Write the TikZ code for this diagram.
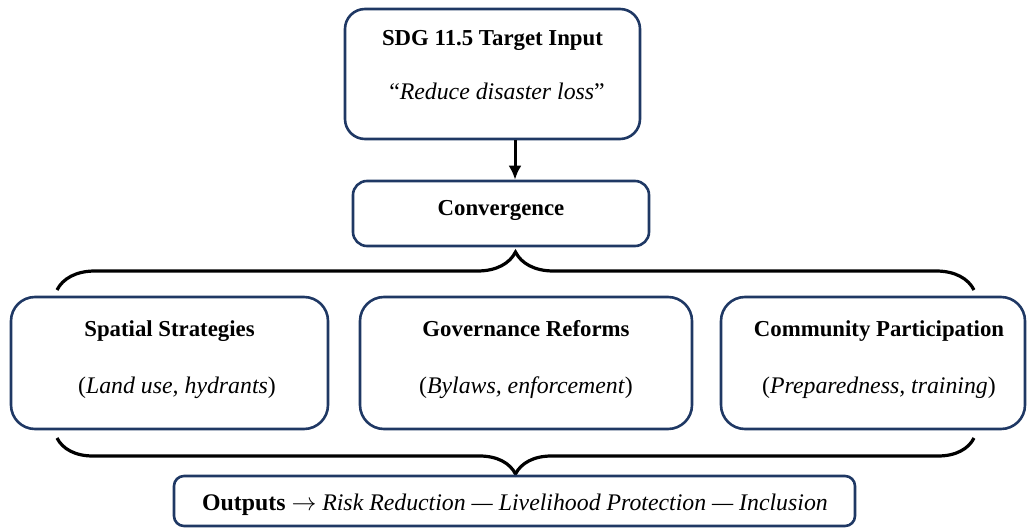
\documentclass[tikz,border=0pt]{standalone}
\usepackage{fontspec}
\setmainfont{Liberation Serif}[
  BoldFont=Liberation Serif Bold,
  ItalicFont=Liberation Serif Italic,
  BoldItalicFont=Liberation Serif Bold Italic]
\usetikzlibrary{arrows.meta,decorations.pathreplacing}
\definecolor{boxline}{HTML}{1F3864}
\begin{document}
\begin{tikzpicture}[x=1pt,y=-1pt,
  box/.style={draw=boxline, line width=2.6pt, inner sep=0pt},
  head/.style={font=\fontsize{22.8}{27}\selectfont\bfseries, anchor=base, inner sep=0pt},
  note/.style={font=\fontsize{23.8}{28}\selectfont, anchor=base, inner sep=0pt},
  flow/.style={line width=3pt, -{Latex[length=14pt,width=13pt]}},
  curly/.style={line width=3.2pt, decorate, decoration={brace, amplitude=#1}}]
  \useasboundingbox (0,0) rectangle (1028,529);
  % target input
  \node [box, rounded corners=20pt, minimum width=295, minimum height=130] (sdg) at (492.5,74) {};
  \node [head] (sdghead) at (492.5,46) {SDG 11.5 Target Input};
  \node [note] (sdgnote) at (497,100) {``\textit{Reduce disaster loss}''};
  % convergence
  \node [box, rounded corners=14pt, minimum width=296, minimum height=65] (conv) at (501,213.5) {};
  \node [head] (convhead) at (501,216) {Convergence};
  \coordinate (axis) at (515,0);
  \draw [flow] (sdg.south -| axis) -- (conv.north -| axis);
  % three strands
  \node [box, rounded corners=24pt, minimum width=317, minimum height=132] (spatial) at (169.5,363) {};
  \node [head] (spatialhead) at (169.5,337) {Spatial Strategies};
  \node [note] (spatialnote) at (177,393) {(\textit{Land use, hydrants})};
  \node [box, rounded corners=24pt, minimum width=332, minimum height=132] (gov) at (526,363) {};
  \node [head] (govhead) at (526,337) {Governance Reforms};
  \node [note] (govnote) at (526,393) {(\textit{Bylaws, enforcement})};
  \node [box, rounded corners=24pt, minimum width=304, minimum height=132] (comm) at (873,363) {};
  \node [head] (commhead) at (879,337) {Community Participation};
  \node [note] (commnote) at (879,393) {(\textit{Preparedness, training})};
  % braces
  \coordinate (splitL) at (57,290);
  \coordinate (splitR) at (974,290);
  \coordinate (joinL) at (57,438);
  \coordinate (joinR) at (974,438);
  \draw [curly=38] (splitL) -- (splitR);
  \draw [curly=36, decoration={mirror}] (joinL) -- (joinR);
  % outputs
  \node [box, rounded corners=10pt, minimum width=681, minimum height=50] (out) at (514.5,501) {};
  \node [note] (outtext) at (515,510) {\textbf{Outputs} $\rightarrow$ \textit{Risk Reduction --- Livelihood Protection --- Inclusion}};
\end{tikzpicture}
\end{document}
